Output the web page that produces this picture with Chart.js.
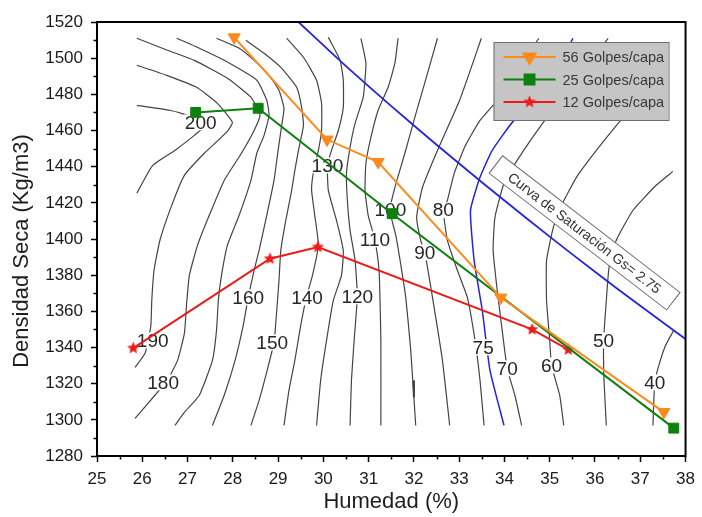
<!DOCTYPE html>
<html>
<head>
<meta charset="utf-8">
<script src="https://cdn.jsdelivr.net/npm/chart.js@4.4.1/dist/chart.umd.min.js"></script>
<style>
  html, body { margin: 0; padding: 0; background: #fff; }
  #wrap { width: 702px; height: 517px; }
</style>
</head>
<body>
<div id="wrap"><canvas id="c" width="702" height="517"></canvas></div>
<script>
// Compaction curves: moisture (%) vs dry density (kg/m3)
const golpes56 = [[28.03, 1511.5], [30.08, 1455], [31.21, 1442.6], [33.92, 1367.6], [37.52, 1304.3]];
const golpes25 = [[27.18, 1470], [28.56, 1472.3], [31.52, 1414], [37.74, 1295.4]];
const golpes12 = [[25.80, 1339.7], [28.82, 1389.1], [29.88, 1395.6], [34.61, 1350.0], [35.41, 1338.8]];

// Zero-air-voids curve, Gs = 2.75
const saturacion = [[29.45, 1520], [30.5, 1495.6], [31.5, 1473.5], [32.5, 1452.1], [33.5, 1431.4],
                    [34.5, 1411.2], [35.5, 1391.5], [36.5, 1372.4], [37.5, 1353.8], [38.0, 1344.7]];

// Iso-lines of the response surface
const iso200 = [[25.88,1473.9],[26.61,1471.2],[27.15,1467.3],[27.42,1463.4],[27.15,1457.3],[26.72,1449.0],[26.23,1440.7],[25.88,1425.3]];
const iso190 = [[25.88,1496.1],[26.54,1490.5],[27.20,1483.9],[27.66,1475.0],[27.99,1464.5],[27.88,1459.5],[27.37,1447.4],[26.93,1435.2],[26.65,1418.6],[26.39,1399.3],[26.26,1382.7],[26.21,1366.0],[26.19,1352.2],[26.12,1342.8],[26.06,1336.7],[25.84,1329.0]];
const iso180 = [[25.88,1511.0],[26.50,1504.9],[27.15,1498.8],[27.88,1488.9],[28.40,1478.4],[28.60,1468.4],[28.47,1460.0],[28.19,1447.4],[27.81,1432.4],[27.48,1413.1],[27.22,1396.5],[27.04,1379.9],[26.98,1364.4],[26.93,1347.8],[26.78,1332.9],[26.54,1321.3],[26.28,1313.6],[25.84,1300.8]];
const iso170 = [[26.76,1511.0],[27.26,1505.5],[27.81,1498.8],[28.53,1487.8],[28.75,1476.7],[28.80,1468.4],[28.69,1457.3],[28.53,1447.4],[28.40,1432.4],[28.14,1413.1],[27.88,1396.5],[27.75,1379.9],[27.68,1366.0],[27.64,1349.5],[27.55,1332.9],[27.26,1313.6],[26.93,1304.1],[26.72,1296.9]];
const iso160 = [[27.64,1511.0],[28.14,1505.5],[28.47,1498.8],[28.80,1490.5],[29.02,1482.2],[29.13,1472.3],[29.08,1462.8],[29.00,1449.0],[28.91,1432.4],[28.75,1413.1],[28.58,1393.7],[28.47,1382.7],[28.34,1367.7],[28.23,1352.2],[28.05,1332.9],[27.81,1313.6],[27.55,1296.9]];
const iso150 = [[28.29,1509.9],[28.69,1502.7],[29.06,1494.9],[29.41,1483.9],[29.52,1472.8],[29.56,1462.8],[29.45,1449.0],[29.37,1438.0],[29.30,1426.9],[29.17,1410.3],[29.06,1393.7],[29.02,1377.1],[28.97,1360.5],[28.91,1342.8],[28.73,1324.6],[28.58,1310.8],[28.40,1296.9]];
const iso140 = [[29.19,1511.0],[29.56,1500.5],[29.85,1487.8],[29.96,1475.0],[29.96,1460.0],[29.89,1449.0],[29.78,1436.9],[29.74,1426.9],[29.81,1413.1],[29.89,1396.5],[29.76,1379.9],[29.63,1368.3],[29.50,1352.2],[29.37,1332.9],[29.24,1316.3],[29.13,1296.9]];
const iso130 = [[30.11,1511.5],[30.37,1498.8],[30.44,1487.8],[30.44,1472.8],[30.33,1460.0],[30.18,1449.0],[30.09,1440.7],[30.11,1426.9],[30.29,1410.3],[30.44,1393.7],[30.40,1379.9],[30.22,1366.0],[30.07,1343.9],[29.94,1321.8],[29.85,1296.9]];
const iso120 = [[30.83,1511.0],[30.94,1497.2],[30.88,1478.4],[30.70,1463.9],[30.59,1450.7],[30.51,1436.3],[30.53,1421.4],[30.59,1404.8],[30.70,1388.2],[30.75,1368.3],[30.68,1343.9],[30.62,1321.8],[30.59,1296.9]];
const iso110 = [[31.65,1511.0],[31.58,1497.2],[31.43,1483.9],[31.21,1471.2],[31.05,1456.2],[30.94,1441.9],[30.92,1426.9],[30.99,1413.1],[31.14,1399.3],[31.23,1382.7],[31.25,1367.7],[31.27,1343.9],[31.27,1296.9]];
const iso100 = [[32.52,1511.0],[32.30,1491.6],[32.02,1467.3],[31.80,1447.4],[31.58,1428.6],[31.47,1415.9],[31.60,1402.0],[31.73,1382.7],[31.82,1367.7],[31.93,1338.4],[32.04,1296.9]];
const iso90  = [[33.49,1511.0],[33.01,1476.7],[32.52,1449.0],[32.19,1428.6],[32.06,1412.0],[32.15,1399.3],[32.24,1392.6],[32.41,1367.7],[32.63,1332.9],[32.79,1296.9]];
const iso80  = [[34.76,1511.0],[34.28,1493.3],[33.84,1476.7],[33.46,1465.6],[33.14,1451.8],[32.89,1436.3],[32.74,1421.4],[32.65,1415.9],[32.74,1399.3],[32.96,1382.7],[33.18,1367.7],[33.35,1343.9],[33.46,1321.8],[33.55,1296.9]];
const iso75  = [[35.51,1511.0],[34.93,1480.6],[34.21,1465.6],[33.73,1449.0],[33.46,1434.1],[33.25,1415.9],[33.33,1388.2],[33.51,1360.5],[33.68,1327.4],[33.99,1296.9]];
const iso70  = [[36.29,1511.0],[35.57,1487.8],[34.89,1465.6],[34.28,1443.5],[33.99,1430.8],[33.79,1412.0],[33.75,1393.7],[33.84,1371.6],[33.95,1349.5],[34.06,1328.5],[34.23,1313.6],[34.38,1296.9]];
const iso60  = [[37.45,1490.5],[37.01,1478.4],[36.53,1464.5],[36.03,1449.0],[35.59,1434.1],[35.26,1418.6],[35.08,1406.4],[34.93,1388.2],[34.93,1366.0],[35.00,1343.9],[35.04,1330.1],[35.22,1313.6],[35.31,1296.9]];
const iso50  = [[37.72,1437.4],[37.35,1429.7],[36.84,1415.9],[36.47,1399.3],[36.31,1384.3],[36.25,1366.0],[36.19,1343.9],[36.20,1321.8],[36.25,1296.9]];
const iso40  = [[37.74,1349.5],[37.56,1341.2],[37.41,1330.1],[37.32,1320.7],[37.30,1310.8],[37.28,1296.9]];
const isoStub = [[31.99,1321.8],[32.00,1312.5]];

const isoBlack = [iso200, iso190, iso180, iso170, iso160, iso150, iso140, iso130, iso120,
                  iso110, iso100, iso90, iso80, iso70, iso60, iso50, iso40];

// Iso-line values and where they are printed
const isoLabels = [
  ['200', 27.29, 1464.5], ['190', 26.23, 1343.9], ['180', 26.46, 1320.7],
  ['160', 28.34, 1367.7], ['150', 28.87, 1342.8], ['140', 29.64, 1367.7],
  ['130', 30.09, 1440.7], ['120', 30.75, 1368.3], ['110', 31.14, 1399.8],
  ['100', 31.48, 1415.9], ['90', 32.24, 1392.6], ['80', 32.65, 1415.9],
  ['75', 33.53, 1340.1], ['70', 34.06, 1328.5], ['60', 35.04, 1330.1],
  ['50', 36.19, 1343.9], ['40', 37.32, 1320.7]
];
const satLabel = ['Curva de Saturación Gs= 2.75', 35.77, 1403.4];

const xTitle = 'Humedad (%)';
const yTitle = 'Densidad Seca (Kg/m3)';

const FONT = '"Liberation Sans", Arial, Helvetica, sans-serif';
const BLUE = '#2424e0';
const toXY = a => a.map(([x, y]) => ({ x, y }));

function starImage(color, r) {
  const s = Math.ceil(r * 2 + 2);
  const c = document.createElement('canvas');
  c.width = c.height = s;
  const g = c.getContext('2d');
  g.fillStyle = color;
  g.beginPath();
  for (let i = 0; i < 10; i++) {
    const rad = i % 2 ? r * 0.45 : r;
    const a = -Math.PI / 2 + i * Math.PI / 5;
    g.lineTo(s / 2 + rad * Math.cos(a), s / 2 + rad * Math.sin(a));
  }
  g.closePath();
  g.fill();
  return c;
}

const series = [
  { label: '56 Golpes/capa', data: toXY(golpes56), borderColor: '#ff8a1c', backgroundColor: '#ff8a1c',
    pointStyle: 'triangle', pointRotation: 180, pointRadius: 7 },
  { label: '25 Golpes/capa', data: toXY(golpes25), borderColor: '#0e800e', backgroundColor: '#0e800e',
    pointStyle: 'rect', pointRadius: 7 },
  { label: '12 Golpes/capa', data: toXY(golpes12), borderColor: '#ee1a1a', backgroundColor: '#ee1a1a',
    pointStyle: starImage('#ee1a1a', 6.5), pointRadius: 7 }
].map(d => Object.assign(d, { showLine: true, borderWidth: 2, pointBorderWidth: 1, tension: 0 }));

const satDataset = { label: 'sat', data: toXY(saturacion), showLine: true, borderColor: BLUE,
  borderWidth: 1.8, pointRadius: 0, tension: 0.2 };

const isoDatasets = isoBlack.map(d => ({ label: 'iso', data: toXY(d), showLine: true,
  borderColor: '#444', borderWidth: 1.2, pointRadius: 0, tension: 0.15 }));
isoDatasets.push({ label: 'iso', data: toXY(iso75), showLine: true, borderColor: BLUE,
  borderWidth: 1.5, pointRadius: 0, tension: 0.15 });
isoDatasets.push({ label: 'iso', data: toXY(isoStub), showLine: true, borderColor: '#333',
  borderWidth: 2, pointRadius: 0 });

// Iso-line numbers and the saturation tag, painted under the compaction curves
const labelsPlugin = {
  id: 'isoLabels',
  beforeDatasetDraw(chart, args) {
    if (args.index !== 3) return;
    const { ctx, scales: { x, y } } = chart;
    ctx.save();
    ctx.font = '19px ' + FONT;
    ctx.textAlign = 'center';
    ctx.textBaseline = 'middle';
    for (const [t, vx, vy] of isoLabels) {
      const px = x.getPixelForValue(vx), py = y.getPixelForValue(vy);
      const w = ctx.measureText(t).width;
      ctx.fillStyle = '#fff';
      ctx.fillRect(px - w / 2 - 1, py - 8, w + 2, 16);
      ctx.fillStyle = '#262626';
      ctx.fillText(t, px, py + 1);
    }
    const [st, sx, sy] = satLabel;
    ctx.translate(x.getPixelForValue(sx), y.getPixelForValue(sy));
    ctx.rotate(37.6 * Math.PI / 180);
    ctx.fillStyle = '#fff';
    ctx.fillRect(-112, -11, 224, 22);
    ctx.strokeStyle = '#6a6a6a';
    ctx.lineWidth = 1;
    ctx.strokeRect(-112, -11, 224, 22);
    ctx.font = '14px ' + FONT;
    ctx.fillStyle = '#333';
    ctx.fillText(st, 0, 1);
    ctx.restore();
  }
};

// Legend box inside the plot
const legendPlugin = {
  id: 'boxLegend',
  afterDatasetsDraw(chart) {
    const { ctx, chartArea: a } = chart;
    const bx = a.right - 192, by = a.top + 20, bw = 175, bh = 78;
    ctx.save();
    ctx.fillStyle = '#c5c5c5';
    ctx.fillRect(bx, by, bw, bh);
    ctx.strokeStyle = '#6e6e6e';
    ctx.lineWidth = 1;
    ctx.strokeRect(bx + 0.5, by + 0.5, bw, bh);
    ctx.font = '14.5px ' + FONT;
    ctx.textAlign = 'left';
    ctx.textBaseline = 'middle';
    series.forEach((s, i) => {
      const cy = by + 15 + i * 22.5;
      ctx.strokeStyle = s.borderColor;
      ctx.fillStyle = s.borderColor;
      ctx.lineWidth = 2;
      ctx.beginPath();
      ctx.moveTo(bx + 10, cy);
      ctx.lineTo(bx + 62, cy);
      ctx.stroke();
      Chart.helpers.drawPoint(ctx, { pointStyle: s.pointStyle, rotation: s.pointRotation || 0,
        radius: s.pointRadius, borderWidth: 1 }, bx + 36, cy);
      ctx.fillStyle = '#383838';
      ctx.fillText(s.label, bx + 69, cy + 1);
    });
    ctx.restore();
  }
};

// Frame, minor ticks and the vertical axis title
const framePlugin = {
  id: 'frame',
  afterDraw(chart) {
    const { ctx, chartArea: a, scales: { x, y } } = chart;
    ctx.save();
    ctx.strokeStyle = '#000';
    ctx.lineWidth = 2;
    ctx.strokeRect(a.left, a.top, a.right - a.left, a.bottom - a.top);
    ctx.lineWidth = 1.5;
    ctx.beginPath();
    for (let v = x.min + 0.5; v < x.max; v += 1) {
      const px = Math.round(x.getPixelForValue(v)) + 0.5;
      ctx.moveTo(px, a.bottom);
      ctx.lineTo(px, a.bottom + 3.5);
    }
    for (let v = y.min + 10; v < y.max; v += 20) {
      const py = Math.round(y.getPixelForValue(v)) + 0.5;
      ctx.moveTo(a.left, py);
      ctx.lineTo(a.left - 3.5, py);
    }
    ctx.stroke();
    ctx.translate(22, (a.top + a.bottom) / 2 + 12);
    ctx.rotate(-Math.PI / 2);
    ctx.font = '22px ' + FONT;
    ctx.fillStyle = '#1e1e1e';
    ctx.textAlign = 'center';
    ctx.textBaseline = 'middle';
    ctx.fillText(yTitle, 0, 0);
    ctx.restore();
  }
};

new Chart(document.getElementById('c'), {
  type: 'scatter',
  data: { datasets: [...series, satDataset, ...isoDatasets] },
  plugins: [labelsPlugin, legendPlugin, framePlugin],
  options: {
    responsive: false,
    animation: false,
    devicePixelRatio: 1,
    events: [],
    layout: { padding: { top: 22, right: 12, left: 0, bottom: 0 } },
    plugins: { legend: { display: false }, tooltip: { enabled: false } },
    scales: {
      x: {
        type: 'linear', min: 25, max: 38,
        afterFit: s => { s.height = 61; },
        ticks: { stepSize: 1, font: { size: 17, family: FONT }, color: '#1a1a1a', padding: 7, maxRotation: 0,
                 callback: v => String(v) },
        grid: { drawOnChartArea: false, drawTicks: true, tickLength: 6, tickColor: '#000', tickWidth: 1.5 },
        border: { display: false },
        title: { display: true, text: xTitle, font: { size: 22, family: FONT }, color: '#1e1e1e',
                 padding: { top: 0, bottom: 2 } }
      },
      y: {
        type: 'linear', min: 1280, max: 1520,
        afterFit: s => { s.width = 97; },
        ticks: { stepSize: 20, font: { size: 17, family: FONT }, color: '#1a1a1a', padding: 8,
                 callback: v => String(v) },
        grid: { drawOnChartArea: false, drawTicks: true, tickLength: 6, tickColor: '#000', tickWidth: 1.5 },
        border: { display: false }
      }
    }
  }
});
</script>
</body>
</html>
